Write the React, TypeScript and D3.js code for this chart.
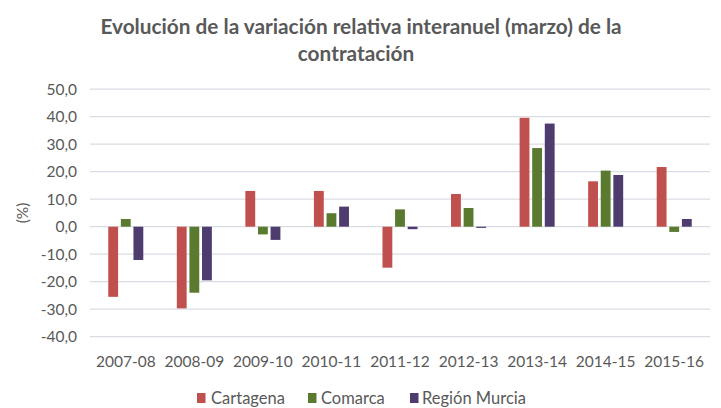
import React from "react";
import * as d3 from "d3";

const categories = ["2007-08", "2008-09", "2009-10", "2010-11", "2011-12", "2012-13", "2013-14", "2014-15", "2015-16"];
const seriesNames = ["Cartagena", "Comarca", "Región Murcia"];
const cartagena = [-25.5, -29.7, 13.0, 13.0, -14.9, 11.9, 39.6, 16.5, 21.7];
const comarca = [2.8, -24.0, -2.8, 4.9, 6.3, 6.8, 28.6, 20.4, -1.9];
const regionMurcia = [-12.1, -19.5, -4.8, 7.3, -0.9, -0.3, 37.5, 18.8, 2.8];
const yTicks = [50, 40, 30, 20, 10, 0, -10, -20, -30, -40];
const colors = ["#C0504D", "#5A7A30", "#4F3C6E"];

const W = 721;
const H = 408;
const FONT = "Lato, 'Open Sans', sans-serif";

export default function App() {
  const series = [cartagena, comarca, regionMurcia];
  const x = d3.scaleBand().domain(categories).range([91.5, 708.5]).paddingInner(0).paddingOuter(0);
  const y = d3.scaleLinear().domain([-40, 50]).range([336.7, 89.2]);
  const inner = d3.scaleBand().domain(seriesNames).range([0, x.bandwidth()]).paddingInner(0.22).paddingOuter(1.33);
  const fmt = (v: number) => d3.format(".1f")(v).replace(".", ",").replace("−", "-");

  const legendX = [197, 308, 410];
  const legendTextX = [211, 321, 422];

  return (
    <svg width={W} height={H} style={{ position: "absolute", left: 0, top: 0, background: "#fff" }}>
      <rect x={0} y={0} width={W} height={H} fill="#fff" />
      <text x={361} y={34} textAnchor="middle" fontFamily={FONT} fontSize={20.8} fontWeight={700} fill="#595959">
        Evolución de la variación relativa interanuel (marzo) de la
      </text>
      <text x={356} y={61} textAnchor="middle" fontFamily={FONT} fontSize={20.8} fontWeight={700} fill="#595959">
        contratación
      </text>
      {yTicks.map((t) => (
        <g key={t}>
          <line x1={90} x2={710} y1={y(t)} y2={y(t)} stroke="#D9DDE3" strokeWidth={1.3} />
          <text x={77} y={y(t) + 5.5} textAnchor="end" fontFamily={FONT} fontSize={15.5} fill="#595959">
            {fmt(t)}
          </text>
        </g>
      ))}
      <text transform={`translate(28, ${y(5)}) rotate(-90)`} textAnchor="middle" fontFamily={FONT} fontSize={15.5} fill="#595959">
        (%)
      </text>
      {categories.map((c, i) => (
        <g key={c}>
          {series.map((s, j) => {
            const v = s[i];
            const y0 = y(0);
            const yv = y(v);
            return (
              <rect
                key={j}
                x={(x(c) as number) + (inner(seriesNames[j]) as number)}
                y={Math.min(y0, yv)}
                width={inner.bandwidth()}
                height={Math.max(Math.abs(yv - y0), 1.2)}
                fill={colors[j]}
              />
            );
          })}
          <text x={(x(c) as number) + x.bandwidth() / 2} y={366.5} textAnchor="middle" fontFamily={FONT} fontSize={15.5} fill="#595959">
            {c}
          </text>
        </g>
      ))}
      {seriesNames.map((n, j) => (
        <g key={n}>
          <rect x={legendX[j]} y={393} width={8.5} height={10} fill={colors[j]} />
          <text x={legendTextX[j]} y={404} fontFamily={FONT} fontSize={16.5} fill="#595959">
            {n}
          </text>
        </g>
      ))}
    </svg>
  );
}
